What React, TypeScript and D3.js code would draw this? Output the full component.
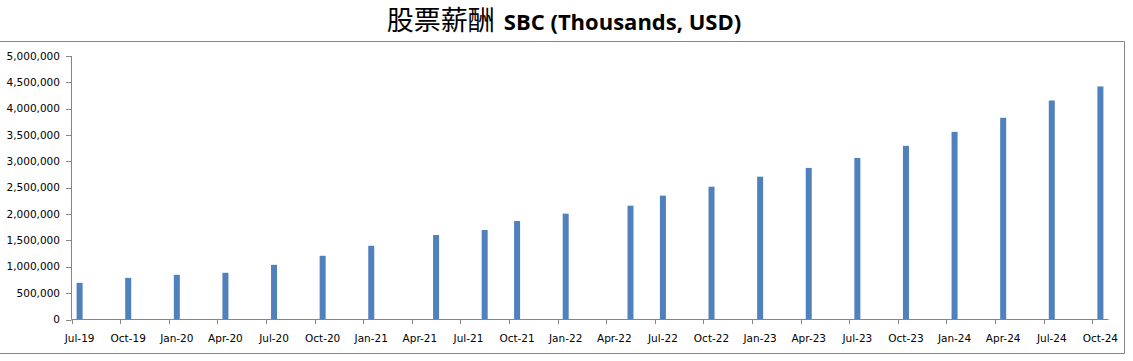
import React from "react";
import * as d3 from "d3";

const months: string[] = [
  "2019-07", "2019-10", "2020-01", "2020-04", "2020-07", "2020-10", "2021-01",
  "2021-05", "2021-08", "2021-10", "2022-01", "2022-05", "2022-07", "2022-10",
  "2023-01", "2023-04", "2023-07", "2023-10", "2024-01", "2024-04", "2024-07", "2024-10",
];
const sbcValues: number[] = [
  696000, 790000, 848000, 886000, 1038000, 1209000, 1399000,
  1603000, 1698000, 1869000, 2008000, 2160000, 2350000, 2520000,
  2710000, 2876000, 3066000, 3295000, 3561000, 3827000, 4156000, 4422000,
];
const tickLabels: string[] = [
  "Jul-19", "Oct-19", "Jan-20", "Apr-20", "Jul-20", "Oct-20", "Jan-21", "Apr-21",
  "Jul-21", "Oct-21", "Jan-22", "Apr-22", "Jul-22", "Oct-22", "Jan-23", "Apr-23",
  "Jul-23", "Oct-23", "Jan-24", "Apr-24", "Jul-24", "Oct-24",
];
const yTicks: number[] = d3.range(0, 5000001, 500000);

const W = 1133;
const H = 361;
const start = new Date(2019, 6, 1);
const parseMonth = d3.timeParse("%Y-%m");
const monthIndex = (s: string) => d3.timeMonth.count(start, parseMonth(s) as Date);
const nSlots = 64;

export default function App() {
  const x = d3.scaleLinear().domain([0, nSlots]).range([71.5, 1108.5]);
  const y = d3.scaleLinear().domain([0, 5000000]).range([319.5, 56]);
  const fmt = d3.format(",");
  const axisColor = "#868686";
  const barW = 6;
  const labelFont = "'DejaVu Sans', Verdana, sans-serif";

  return (
    <svg
      width={W}
      height={H}
      style={{ position: "absolute", left: 0, top: 0, background: "#fff" }}
    >
      {/* frame */}
      <line x1={0} x2={1124.5} y1={41.5} y2={41.5} stroke={axisColor} strokeWidth={1} />
      <line x1={1124.5} x2={1124.5} y1={41.5} y2={353.5} stroke={axisColor} strokeWidth={1} />
      <line x1={0} x2={1124.5} y1={353.5} y2={353.5} stroke={axisColor} strokeWidth={1} />

      {/* title */}
      <text x={564} y={30} textAnchor="middle" fill="#000">
        <tspan style={{ fontFamily: "'Noto Sans CJK SC', sans-serif", fontSize: 27 }}>股票薪酬</tspan>
        <tspan
          dx={9}
          style={{ fontFamily: "'Open Sans', sans-serif", fontSize: 22, fontWeight: 700 }}
        >
          SBC (Thousands, USD)
        </tspan>
      </text>

      {/* y axis */}
      <line x1={71.5} x2={71.5} y1={y(5000000)} y2={y(0)} stroke={axisColor} />
      {yTicks.map((t) => (
        <g key={t}>
          <line x1={66} x2={71.5} y1={Math.round(y(t)) + 0.5} y2={Math.round(y(t)) + 0.5} stroke={axisColor} />
          <text
            x={60}
            y={y(t)}
            dy="0.35em"
            textAnchor="end"
            style={{ fontFamily: labelFont, fontSize: 10.5 }}
            fill="#000"
          >
            {fmt(t)}
          </text>
        </g>
      ))}

      {/* bars */}
      {months.map((m, i) => {
        const cx = x(monthIndex(m) + 0.5);
        return (
          <rect
            key={m}
            x={cx - barW / 2}
            y={y(sbcValues[i])}
            width={barW}
            height={y(0) - y(sbcValues[i])}
            fill="#4F81BD"
          />
        );
      })}

      {/* x axis */}
      <line x1={71.5} x2={x(nSlots)} y1={319.5} y2={319.5} stroke={axisColor} />
      {tickLabels.map((lab, i) => {
        const tx = Math.round(x(i * 3)) + 0.5;
        return (
          <g key={lab}>
            <line x1={tx} x2={tx} y1={319.5} y2={324} stroke={axisColor} />
            <text
              x={x(i * 3 + 0.5)}
              y={338}
              dy="0.35em"
              textAnchor="middle"
              style={{ fontFamily: labelFont, fontSize: 10.5 }}
              fill="#000"
            >
              {lab}
            </text>
          </g>
        );
      })}
    </svg>
  );
}
